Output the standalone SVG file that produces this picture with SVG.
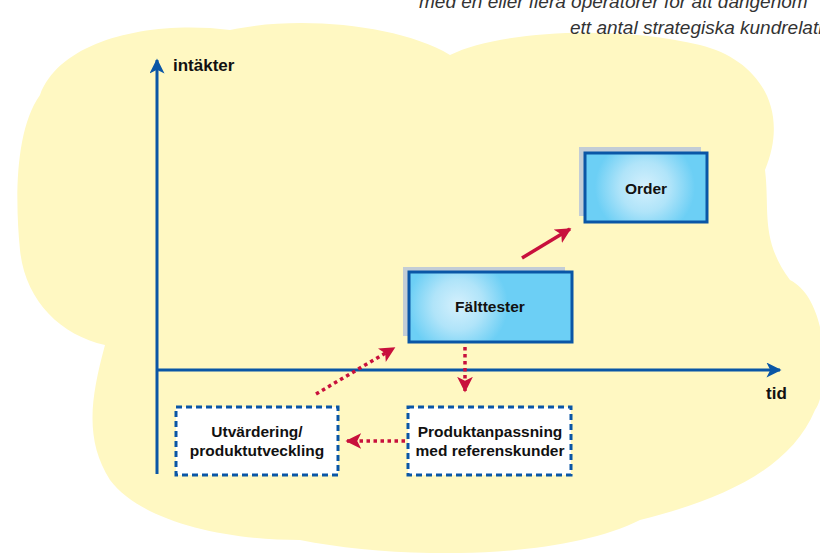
<svg xmlns="http://www.w3.org/2000/svg" width="820" height="553" viewBox="0 0 820 553">
<style>
.lbl{font-family:"Liberation Sans",Arial,sans-serif;font-weight:bold;font-size:15.5px;fill:#111;text-anchor:middle}
.ax{font-family:"Liberation Sans",Arial,sans-serif;font-weight:bold;font-size:17px;fill:#111}
.cap{font-family:"Liberation Sans",Arial,sans-serif;font-style:italic;font-size:19px;fill:#333}
.axis{stroke:#0a56a6;stroke-width:3;fill:none}
.box{stroke:#0a56a6;stroke-width:3}
.shadow{fill:#c3cdd6}
.dash{fill:#fff;stroke:#0a56a6;stroke-width:3;stroke-dasharray:6 4}
.dot{stroke:#c8103c;stroke-width:3.5;stroke-dasharray:3.5 3.5;fill:none}
.solid{stroke:#c8103c;stroke-width:3.5;fill:none}
</style>
<defs>
<radialGradient id="g1" gradientUnits="userSpaceOnUse" cx="458" cy="305" r="50">
<stop offset="0" stop-color="#d4f0fd"/>
<stop offset="0.5" stop-color="#b0e4f9"/>
<stop offset="1" stop-color="#6ccff5"/>
</radialGradient>
<radialGradient id="g2" gradientUnits="userSpaceOnUse" cx="645" cy="187" r="50">
<stop offset="0" stop-color="#d4f0fd"/>
<stop offset="0.5" stop-color="#b0e4f9"/>
<stop offset="1" stop-color="#6ccff5"/>
</radialGradient>
<marker id="ra" viewBox="0 0 10 10" refX="9" refY="5" markerWidth="4.5" markerHeight="4.5" orient="auto" markerUnits="strokeWidth"><path d="M0,0 L10,5 L0,10 L2.5,5 Z" fill="#c8103c"/></marker>
<marker id="ba" viewBox="0 0 10 10" refX="9" refY="5" markerWidth="6" markerHeight="5" orient="auto" markerUnits="strokeWidth"><path d="M0,0 L10,5 L0,10 L2.5,5 Z" fill="#0a56a6"/></marker>
</defs>
<rect width="820" height="553" fill="#fff"/>
<path id="cloud" fill="#fff8c2" d="M40,95 C60,40 150,20 230,30 C300,15 400,25 450,55 C500,30 620,25 700,45 C760,60 790,110 765,170 C770,210 760,240 790,280 C830,300 830,390 815,410 C790,470 720,500 640,520 C560,560 400,560 300,540 C220,540 140,520 110,480 C85,440 90,400 105,345 C60,335 25,300 20,250 C15,200 15,130 40,95 Z"/>
<text class="cap" x="419" y="8">med en eller flera operatörer för att därigenom</text>
<text class="cap" x="570" y="34">ett antal strategiska kundrelationer</text>
<g id="axes">
<line class="axis" x1="157" y1="474" x2="157" y2="60" marker-end="url(#ba)"/>
<line class="axis" x1="157" y1="370" x2="780" y2="370" marker-end="url(#ba)"/>
<text class="ax" x="173" y="71">intäkter</text>
<text class="ax" x="766" y="399">tid</text>
</g>
<g id="order">
<rect class="shadow" x="579" y="147" width="122" height="69"/>
<rect class="box" x="585" y="153" width="122" height="69" fill="url(#g2)"/>
<text class="lbl" x="646" y="194">Order</text>
</g>
<g id="falttester">
<rect class="shadow" x="403" y="267" width="162" height="69"/>
<rect class="box" x="409" y="272" width="163" height="70" fill="url(#g1)"/>
<text class="lbl" x="490" y="312">Fälttester</text>
</g>
<g id="utvardering">
<rect class="dash" x="176" y="407" width="162" height="68"/>
<text class="lbl" x="257" y="437">Utvärdering/</text>
<text class="lbl" x="257" y="456">produktutveckling</text>
</g>
<g id="produktanpassning">
<rect class="dash" x="408" y="407" width="163" height="68"/>
<text class="lbl" x="490" y="437">Produktanpassning</text>
<text class="lbl" x="490" y="456">med referenskunder</text>
</g>
<g id="connectors">
<line class="solid" x1="522" y1="258" x2="570" y2="229" marker-end="url(#ra)"/>
<line class="dot" x1="316" y1="394" x2="394" y2="348" marker-end="url(#ra)"/>
<line class="dot" x1="465" y1="347" x2="465" y2="391" marker-end="url(#ra)"/>
<line class="dot" x1="405" y1="441" x2="347" y2="441" marker-end="url(#ra)"/>
</g>
</svg>
